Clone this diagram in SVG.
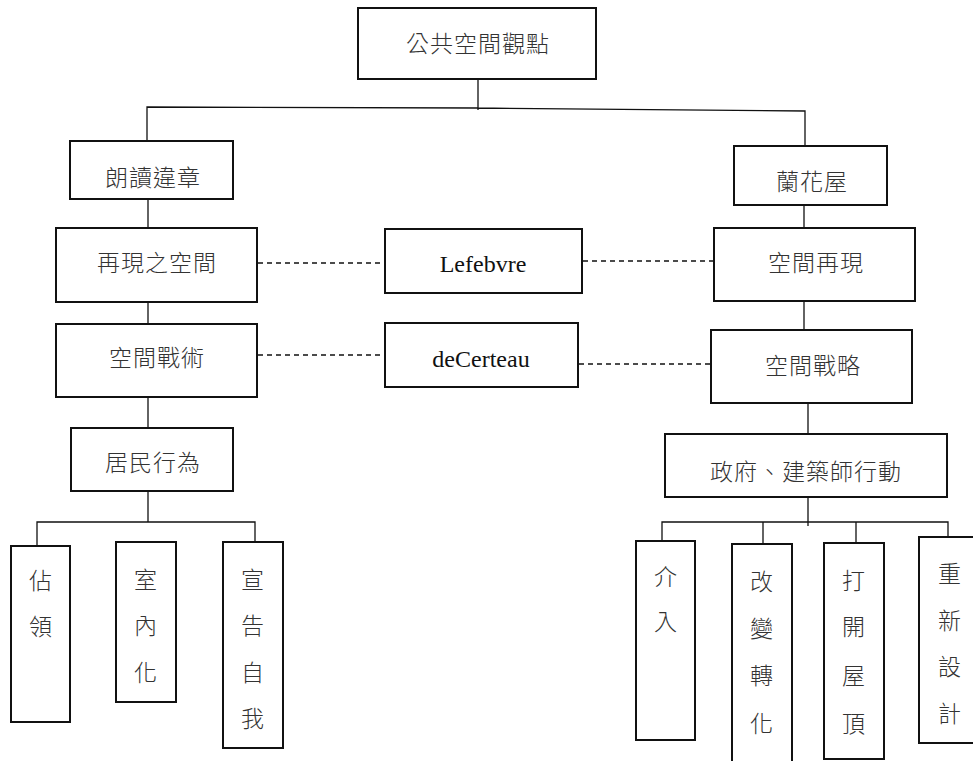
<svg xmlns="http://www.w3.org/2000/svg" width="973" height="761" viewBox="0 0 973 761">
<style>
.box{fill:#fff;stroke:#111;stroke-width:2}
.cj{font-family:"Noto Sans CJK TC","Noto Sans CJK SC",sans-serif;font-size:23px;fill:#333;text-anchor:middle;font-weight:300;letter-spacing:1px}
.en{font-family:"Liberation Serif","Times New Roman",serif;font-size:24px;font-weight:normal;fill:#111;text-anchor:middle}
.ln{stroke:#111;stroke-width:1.3;fill:none}
.dash{stroke:#111;stroke-width:1.3;fill:none;stroke-dasharray:5 4}
</style>
<rect width="973" height="761" fill="#fff"/>
<g id="connectors">
<path class="ln" d="M478 79V110M147 141V107L478 108L805 111V146"/>
<path class="ln" d="M148 199V228M148 302V324M148 397V428M148 491V522"/>
<path class="ln" d="M37 546V522H255V542"/>
<path class="ln" d="M804 205V228M804 301V330M808 403V434M808 497V526"/>
<path class="ln" d="M662 541V522H948V537M763 522V544M856 522V543"/>
<path class="dash" d="M258 263H385M258 355H385M583 261H714M579 364H711"/>
</g>
<g id="n-root"><rect class="box" x="358" y="8" width="238" height="71"/><text class="cj" x="478" y="52">公共空間觀點</text></g>
<g id="n-langdu"><rect class="box" x="70" y="141" width="163" height="58"/><text class="cj" x="153" y="186">朗讀違章</text></g>
<g id="n-zaixian"><rect class="box" x="56" y="228" width="201" height="74"/><text class="cj" x="157" y="271">再現之空間</text></g>
<g id="n-zhanshu"><rect class="box" x="56" y="324" width="201" height="73"/><text class="cj" x="157" y="366">空間戰術</text></g>
<g id="n-jumin"><rect class="box" x="71" y="428" width="162" height="63"/><text class="cj" x="153" y="471">居民行為</text></g>
<g id="n-zhanling"><rect class="box" x="11" y="546" width="59" height="176"/><text class="cj"><tspan x="41" y="589">佔</tspan><tspan x="41" y="635">領</tspan></text></g>
<g id="n-shinei"><rect class="box" x="116" y="542" width="60" height="160"/><text class="cj"><tspan x="146" y="588">室</tspan><tspan x="146" y="634">內</tspan><tspan x="146" y="681">化</tspan></text></g>
<g id="n-xuangao"><rect class="box" x="223" y="542" width="60" height="206"/><text class="cj"><tspan x="253" y="588">宣</tspan><tspan x="253" y="634">告</tspan><tspan x="253" y="681">自</tspan><tspan x="253" y="727">我</tspan></text></g>
<g id="n-lefebvre"><rect class="box" x="385" y="229" width="197" height="64"/><text class="en" x="483" y="272">Lefebvre</text></g>
<g id="n-decerteau"><rect class="box" x="385" y="323" width="193" height="64"/><text class="en" x="481" y="367">deCerteau</text></g>
<g id="n-lanhua"><rect class="box" x="734" y="146" width="153" height="59"/><text class="cj" x="812" y="190">蘭花屋</text></g>
<g id="n-kjzx"><rect class="box" x="714" y="228" width="201" height="73"/><text class="cj" x="816" y="271">空間再現</text></g>
<g id="n-zhanlue"><rect class="box" x="711" y="330" width="201" height="73"/><text class="cj" x="813" y="374">空間戰略</text></g>
<g id="n-zhengfu"><rect class="box" x="665" y="434" width="282" height="63"/><text class="cj" x="806" y="480" letter-spacing="-2">政府、建築師行動</text></g>
<g id="n-jieru"><rect class="box" x="636" y="541" width="59" height="199"/><text class="cj"><tspan x="666" y="585">介</tspan><tspan x="666" y="630">入</tspan></text></g>
<g id="n-gaibian"><rect class="box" x="732" y="544" width="60" height="230"/><text class="cj"><tspan x="762" y="590">改</tspan><tspan x="762" y="637">變</tspan><tspan x="762" y="684">轉</tspan><tspan x="762" y="732">化</tspan></text></g>
<g id="n-dakai"><rect class="box" x="824" y="543" width="60" height="216"/><text class="cj"><tspan x="854" y="589">打</tspan><tspan x="854" y="635">開</tspan><tspan x="854" y="684">屋</tspan><tspan x="854" y="732">頂</tspan></text></g>
<g id="n-chongxin"><rect class="box" x="919" y="537" width="70" height="206"/><text class="cj"><tspan x="950" y="582">重</tspan><tspan x="950" y="629">新</tspan><tspan x="950" y="675">設</tspan><tspan x="950" y="722">計</tspan></text></g>
</svg>
